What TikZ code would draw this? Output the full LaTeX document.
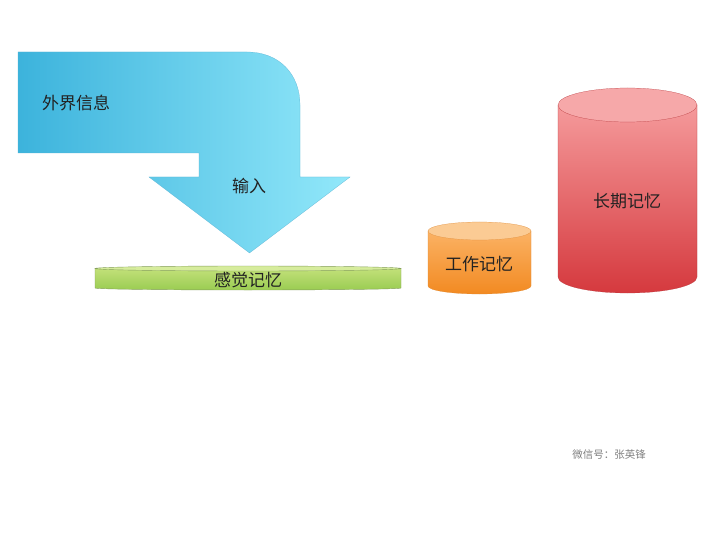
\documentclass[tikz,border=0pt]{standalone}
\usepackage{fontspec}
\setmainfont{Noto Sans CJK SC}
\usetikzlibrary{positioning}

\definecolor{arrowL}{HTML}{3CB3DC}
\definecolor{arrowR}{HTML}{92E8FA}
\definecolor{arrowE}{HTML}{5BB3D3}
\definecolor{greenT}{HTML}{D6EC9C}
\definecolor{greenA}{HTML}{C2E079}
\definecolor{greenB}{HTML}{9ACC52}
\definecolor{greenE}{HTML}{859F5C}
\definecolor{orangeT}{HTML}{FBCB94}
\definecolor{orangeA}{HTML}{FBB264}
\definecolor{orangeB}{HTML}{F28A22}
\definecolor{orangeE}{HTML}{DF8A34}
\definecolor{redT}{HTML}{F6A8A9}
\definecolor{redA}{HTML}{F59A9B}
\definecolor{redB}{HTML}{D5393E}
\definecolor{redE}{HTML}{B8383C}
\definecolor{textC}{HTML}{222222}

\tikzset{
  label text/.style={font=\fontsize{17}{20}\selectfont,text=textC,inner sep=0pt},
  mark text/.style={font=\fontsize{10.5}{12}\selectfont,text=black!50,inner sep=0pt}
}

\begin{document}
\begin{tikzpicture}[x=1pt,y=-1pt]
\useasboundingbox[fill=white] (0,0) rectangle (720,540);

% bent arrow
\shadedraw[left color=arrowL,right color=arrowR,draw=arrowE,very thin]
  (18,52) -- (247,52) .. controls (279,52) and (300,74) .. (300,105)
  -- (300,177) -- (350,177) -- (249.5,253) -- (149,177) -- (199,177)
  -- (199,153) -- (18,153) -- cycle;
\node[label text] (outside) at (76,103) {外界信息};
\node[label text] (input) at (249,186) {输入};

% sensory bar
\shadedraw[top color=greenA,bottom color=greenB,draw=greenE,thin]
  (95,268.5) -- (95,288) arc[start angle=180,end angle=0,x radius=153,y radius=2]
  -- (401,268.5) -- cycle;
\filldraw[fill=greenT,draw=greenE,thin] (248,268.5) ellipse[x radius=153,y radius=2.5];
\node[label text] (sensory) at (248,280) {感觉记忆};

% working memory
\shadedraw[top color=orangeA,bottom color=orangeB,draw=orangeE,very thin]
  (428,231) -- (428,286) arc[start angle=180,end angle=0,x radius=51.5,y radius=8]
  -- (531,231) -- cycle;
\filldraw[fill=orangeT,draw=orangeE,very thin] (479.5,231) ellipse[x radius=51.5,y radius=9];
\node[label text] (working) at (479,264) {工作记忆};

% long term memory
\shadedraw[top color=redA,bottom color=redB,draw=redE,very thin]
  (558,105) -- (558,277) arc[start angle=180,end angle=0,x radius=69.5,y radius=16]
  -- (697,105) -- cycle;
\filldraw[fill=redT,draw=redE,very thin] (627.5,105) ellipse[x radius=69.5,y radius=17];
\node[label text] (longterm) at (627,201) {长期记忆};

\node[mark text] (wechat) at (609,455) {微信号：张英锋};

\end{tikzpicture}
\end{document}
